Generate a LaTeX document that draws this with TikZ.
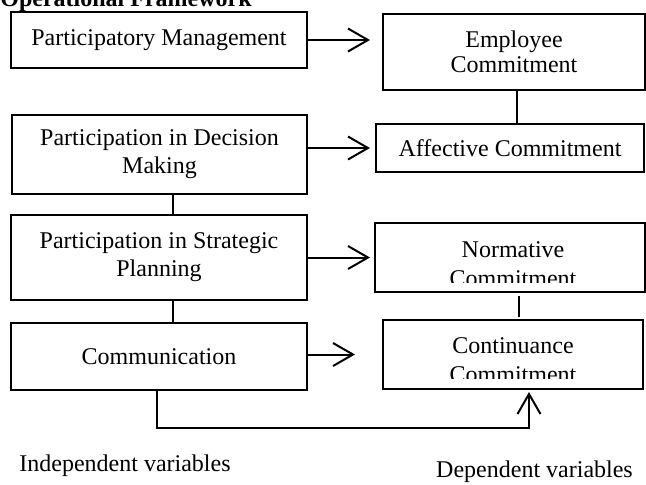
\documentclass[tikz,border=0pt]{standalone}
\usepackage{fontspec}
\setmainfont{Liberation Serif}
\usetikzlibrary{arrows.meta}
\begin{document}
\begin{tikzpicture}[x=0.5pt,y=-0.5pt,
  box/.style={draw, line width=1pt, inner sep=0pt, outer sep=0pt, align=center, font=\fontsize{12}{14}\selectfont},
  conn/.style={line width=1pt},
  arr/.style={line width=1pt, -{Straight Barb[length=10pt,width=11.5pt]}},
  lbl/.style={font=\fontsize{12}{14}\selectfont, inner sep=0pt}]
\useasboundingbox (0,0) rectangle (646,484);
\node[lbl, font=\fontsize{12}{14}\selectfont\bfseries, anchor=base west] (title) at (0,6) {Operational Framework};
\node[box, minimum width=148pt, minimum height=28pt] (pm) at (159,40) {Participatory Management};
\node[box, minimum width=147.5pt, minimum height=39.5pt] (pdm) at (159.5,154.5) {Participation in Decision\\Making};
\node[box, minimum width=148pt, minimum height=42.5pt] (psp) at (159,257.5) {Participation in Strategic\\Planning};
\node[box, minimum width=148pt, minimum height=33.5pt] (com) at (159,356.5) {Communication};
\node[box, minimum width=131pt, minimum height=38pt, font=\fontsize{12}{12.5}\selectfont] (ec) at (514,52) {Employee\\Commitment};
\node[box, minimum width=134pt, minimum height=24pt] (ac) at (510,148) {Affective Commitment};
\node[box, minimum width=135pt, minimum height=34.5pt] (nc) at (510,257.5) {};
\node[box, minimum width=130pt, minimum height=34.5pt] (cc) at (513,354.5) {};
\begin{scope}
  \clip (375,223) rectangle (645,282);
  \node[lbl, anchor=base] (nc1) at (513,257) {Normative};
  \node[lbl, anchor=base] (nc2) at (513,286) {Commitment};
\end{scope}
\begin{scope}
  \clip (383,320) rectangle (643,378);
  \node[lbl, anchor=base] (cc1) at (513,353) {Continuance};
  \node[lbl, anchor=base] (cc2) at (513,382.7) {Commitment};
\end{scope}
\coordinate (vl) at (173,0);
\draw[conn] (pdm.south -| vl) -- (psp.north -| vl);
\draw[conn] (psp.south -| vl) -- (com.north -| vl);
\coordinate (vr) at (517,0);
\draw[conn] (ec.south -| vr) -- (ac.north -| vr);
\coordinate (vr2) at (519,0);
\draw[conn, shorten <=2pt, shorten >=1.5pt] (nc.south -| vr2) -- (cc.north -| vr2);
\draw[arr, shorten >=6.5pt] (pm.east) -- (pm.east -| ec.west);
\draw[arr, shorten >=3pt] (pdm.east |- ac.west) -- (ac.west);
\draw[arr, shorten >=2.5pt] (psp.east |- nc.west) -- (nc.west);
\draw[arr, shorten >=14pt] (com.east |- cc.west) -- (cc.west);
\coordinate (b1) at (157,428);
\coordinate (b2) at (529,428);
\draw[arr, shorten >=1.5pt] (com.south -| b1) -- (b1) -- (b2) -- (cc.south -| b2);
\node[lbl] (iv) at (125,466) {Independent variables};
\node[lbl] (dv) at (534.5,472) {Dependent variables};
\end{tikzpicture}
\end{document}
